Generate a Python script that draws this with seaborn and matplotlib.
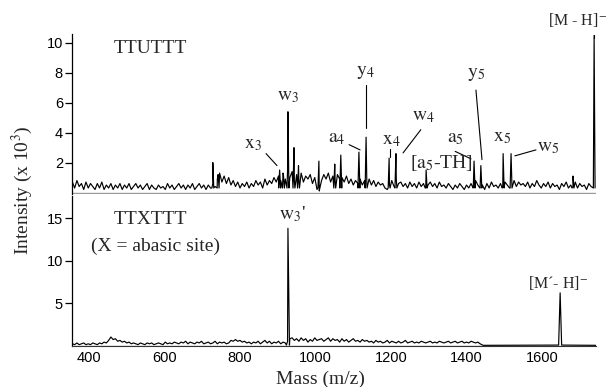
import numpy as np
import pandas as pd
import matplotlib
matplotlib.use("Agg")
import matplotlib.pyplot as plt
import seaborn as sns

sns.set_style("white")
plt.rcParams['font.family'] = ['Liberation Sans', 'DejaVu Sans']
plt.rcParams['mathtext.fontset'] = 'stix'

# ---------------- data (intensity in units of 10^3) ----------------
# baseline noise, top spectrum (TTUTTT), masses 356..1736 step 6
top_base_mass = list(range(356, 1737, 6))
top_base_int = [
    0.7, 0.3, 0.8, 0.4, 0.6, 0.2, 0.7, 0.3, 0.6, 0.4,
    0.2, 0.6, 0.3, 0.7, 0.2, 0.5, 0.3, 0.6, 0.2, 0.5,
    0.3, 0.6, 0.2, 0.5, 0.3, 0.6, 0.2, 0.4, 0.6, 0.3,
    0.5, 0.2, 0.4, 0.6, 0.2, 0.5, 0.3, 0.2, 0.5, 0.3,
    0.4, 0.2, 0.6, 0.3, 0.5, 0.2, 0.4, 0.6, 0.3, 0.5,
    0.2, 0.5, 0.3, 0.6, 0.2, 0.4, 0.6, 0.3, 0.5, 0.2,
    0.5, 0.3, 0.6, 0.4, 0.9, 1.3, 0.7, 1.1, 0.6, 1.0,
    0.5, 0.8, 0.4, 0.7, 0.3, 0.6, 0.4, 0.7, 0.3, 0.6,
    0.4, 0.8, 0.5, 0.7, 0.3, 0.9, 0.5, 0.8, 0.6, 1.0,
    0.7, 1.1, 0.8, 1.3, 0.9, 1.5, 1.0, 1.4, 0.8, 1.2,
    0.8, 1.3, 0.7, 1.1, 0.9, 1.2, 0.6, 1.0, 0.2, 0.1,
    0.8, 1.2, 0.9, 1.3, 0.7, 1.1, 0.8, 1.2, 0.9, 1.0,
    0.7, 1.1, 0.6, 0.9, 0.5, 0.8, 0.6, 0.9, 0.5, 0.8,
    0.6, 0.9, 0.5, 0.8, 0.4, 0.7, 0.5, 0.6, 0.3, 0.2,
    0.5, 0.8, 0.4, 0.9, 0.6, 0.7, 0.4, 0.6, 0.3, 0.7,
    0.4, 0.6, 0.3, 0.7, 0.4, 0.6, 0.3, 0.5, 0.7, 0.4,
    0.6, 0.3, 0.7, 0.4, 0.5, 0.3, 0.6, 0.4, 0.2, 0.5,
    0.3, 0.6, 0.4, 0.2, 0.5, 0.3, 0.6, 0.4, 0.8, 0.5,
    0.3, 0.5, 0.2, 0.6, 0.3, 0.7, 0.4, 0.5, 0.3, 0.6,
    0.4, 0.7, 0.5, 0.3, 0.6, 0.8, 0.4, 0.7, 0.5, 0.6,
    0.4, 0.7, 0.3, 0.6, 0.4, 0.8, 0.5, 0.3, 0.6, 0.4,
    0.7, 0.3, 0.6, 0.4, 0.5, 0.2, 0.6, 0.4, 0.7, 0.3,
    0.5, 0.4, 0.7, 0.3, 0.6, 0.4, 0.5, 0.2, 0.6, 0.4,
    0.3,
]
top_peak_mass = [728, 742, 905, 915, 927, 943, 955, 1009, 1051, 1067,
                 1115, 1134, 1195, 1213, 1293, 1420, 1438, 1497, 1518,
                 1682, 1738]
top_peak_int = [2.0, 1.2, 1.5, 1.2, 5.4, 3.0, 1.8, 2.1, 1.9, 2.5,
                2.7, 3.7, 2.3, 2.6, 1.5, 2.1, 1.8, 2.6, 2.6,
                1.1, 10.5]

# baseline noise, bottom spectrum (TTXTTT), masses 356..1436 step 6, then flat
bot_base_mass = list(range(356, 1437, 6)) + [1444, 1745]
bot_base_int = [
    0.2, 0.1, 0.3, 0.1, 0.2, 0.3, 0.1, 0.2, 0.1, 0.3,
    0.2, 0.1, 0.3, 0.2, 0.4, 0.3, 0.6, 1.0, 0.7, 0.8,
    0.5, 0.6, 0.4, 0.5, 0.3, 0.4, 0.2, 0.3, 0.2, 0.1,
    0.3, 0.2, 0.1, 0.3, 0.2, 0.3, 0.1, 0.2, 0.3, 0.2,
    0.1, 0.4, 0.2, 0.3, 0.2, 0.4, 0.3, 0.2, 0.4, 0.3,
    0.5, 0.2, 0.4, 0.3, 0.2, 0.4, 0.3, 0.5, 0.2, 0.3,
    0.4, 0.2, 0.3, 0.5, 0.2, 0.4, 0.3, 0.4, 0.2, 0.3,
    0.6, 0.5, 0.7, 0.5, 0.6, 0.4, 0.5, 0.3, 0.4, 0.2,
    0.4, 0.3, 0.5, 0.2, 0.4, 0.6, 0.3, 0.5, 0.2, 0.4,
    0.3, 0.5, 0.2, 0.4, 0.3, 0.5, 0.8, 0.9, 0.6, 0.8,
    0.5, 0.9, 0.6, 0.8, 0.4, 0.7, 0.5, 0.9, 0.6, 0.7,
    0.8, 0.5, 0.7, 0.9, 0.5, 0.8, 0.6, 0.7, 0.4, 0.8,
    0.5, 0.7, 0.4, 0.6, 0.8, 0.5, 0.6, 0.4, 0.7, 0.5,
    0.6, 0.4, 0.5, 0.3, 0.6, 0.4, 0.5, 0.3, 0.4, 0.6,
    0.3, 0.5, 0.4, 0.3, 0.5, 0.3, 0.4, 0.6, 0.3, 0.4,
    0.5, 0.3, 0.4, 0.3, 0.5, 0.4, 0.3, 0.4, 0.5, 0.3,
    0.4, 0.3, 0.5, 0.4, 0.3, 0.4, 0.5, 0.3, 0.4, 0.5,
    0.3, 0.4, 0.5, 0.3, 0.4, 0.3, 0.5, 0.4, 0.3, 0.4,
    0.2,
    0.02, 0.02,
]
bot_peak_mass = [927, 1648]
bot_peak_int = [13.8, 6.2]

x_ticks = [400, 600, 800, 1000, 1200, 1400, 1600]
top_yticks = [2, 4, 6, 8, 10]
bot_yticks = [5, 10, 15]


def spectrum(base_m, base_i, pk_m, pk_i, half, foot):
    m = list(base_m)
    y = list(base_i)
    for pm, ph in zip(pk_m, pk_i):
        m += [pm - half, pm, pm + half]
        y += [foot, ph, foot]
    df = pd.DataFrame({"mass": m, "intensity": y})
    return df.sort_values("mass", kind="stable").reset_index(drop=True)


top_df = spectrum(top_base_mass, top_base_int, top_peak_mass, top_peak_int, 2.5, 0.3)
bot_df = spectrum(bot_base_mass, bot_base_int, bot_peak_mass, bot_peak_int, 4, 0.05)

# ---------------- figure ----------------
W, H = 606, 387
fig = plt.figure(figsize=(W / 100, H / 100), dpi=100)
left = 72 / W
width = (596 - 72) / W
ax1 = fig.add_axes([left, (H - 194) / H, width, 160 / H])
ax2 = fig.add_axes([left, (H - 345.5) / H, width, (345.5 - 196) / H])

XMIN, XMAX = 355, 1743
for ax, df in ((ax1, top_df), (ax2, bot_df)):
    ax.axhline(0, color="#9a9a9a", lw=1.0, zorder=1)
    sns.lineplot(data=df, x="mass", y="intensity", ax=ax, estimator=None,
                 sort=False, color="black", lw=0.85, zorder=3)
    ax.set_xlim(XMIN, XMAX)
    ax.set_xlabel("")
    ax.set_ylabel("")
    for s in ("top", "right"):
        ax.spines[s].set_visible(False)
    ax.spines["left"].set_color("black")
    ax.spines["left"].set_linewidth(0.9)
    ax.tick_params(axis="y", direction="out", length=5, width=0.9, pad=1.5,
                   labelsize=10.5, colors="black", left=True)
    ax.tick_params(axis="x", length=0, labelsize=10.5, pad=4, colors="black")

ax1.set_ylim(-0.1, 10.6)
ax1.set_yticks(top_yticks)
ax1.spines["bottom"].set_visible(False)
ax1.set_xticks([])

ax2.set_ylim(0, 17.6)
ax2.set_yticks(bot_yticks)
ax2.set_xticks(x_ticks)
ax2.spines["bottom"].set_color("#333333")
ax2.spines["bottom"].set_linewidth(0.8)

serif = ["Liberation Serif", "DejaVu Serif"]
fs = 14

# top annotations
ax1.text(562, 9.66, "TTUTTT", family=serif, fontsize=fs, ha="center", va="center")
ann_top = [
    (834, 3.2, r"$\mathrm{x}_3$"),
    (927, 6.45, r"$\mathrm{w}_3$"),
    (1057, 3.6, r"$\mathrm{a}_4$"),
    (1131, 8.0, r"$\mathrm{y}_4$"),
    (1200, 3.45, r"$\mathrm{x}_4$"),
    (1287, 5.1, r"$\mathrm{w}_4$"),
    (1333, 2.0, r"[$\mathrm{a}_5$-TH]"),
    (1370, 3.6, r"$\mathrm{a}_5$"),
    (1425, 7.9, r"$\mathrm{y}_5$"),
    (1494, 3.65, r"$\mathrm{x}_5$"),
    (1616, 3.0, r"$\mathrm{w}_5$"),
]
for x, y, t in ann_top:
    ax1.text(x, y, t, family=serif, fontsize=fs, ha="center", va="center")
ax1.text(1695, 11.55, r"[M - H]$^{\mathrm{-}}$", family=serif, fontsize=11.5,
         ha="center", va="center", clip_on=False)

leaders = [
    ((869, 898), (2.6, 1.8)),
    ((1089, 1118), (3.2, 2.85)),
    ((1134, 1134), (7.2, 4.3)),
    ((1197, 1197), (2.9, 2.4)),
    ((1279, 1232), (4.2, 2.65)),
    ((1370, 1412), (2.75, 2.25)),
    ((1425, 1441), (6.85, 2.2)),
    ((1584, 1528), (2.85, 2.45)),
    ((1738, 1738), (10.5, 10.3)),
]
for xs, ys in leaders:
    ax1.plot(xs, ys, color="black", lw=0.8)

# bottom annotations
ax2.text(562, 14.8, "TTXTTT", family=serif, fontsize=fs, ha="center", va="center")
ax2.text(575, 11.7, "(X = abasic site)", family=serif, fontsize=fs, ha="center", va="center")
ax2.text(940, 15.5, r"$\mathrm{w}_3$'", family=serif, fontsize=fs, ha="center", va="center")
ax2.text(1642, 7.35, r"[M´- H]$^{\mathrm{-}}$", family=serif, fontsize=11.5,
         ha="center", va="center")

fig.text(22 / W, 1 - 190 / H, r"Intensity (x 10$^3$)", family=serif, fontsize=fs,
         rotation=90, ha="center", va="center")
fig.text(320 / W, 1 - 379 / H, "Mass (m/z)", family=serif, fontsize=fs,
         ha="center", va="center")

fig.savefig("out.png", dpi=100)
